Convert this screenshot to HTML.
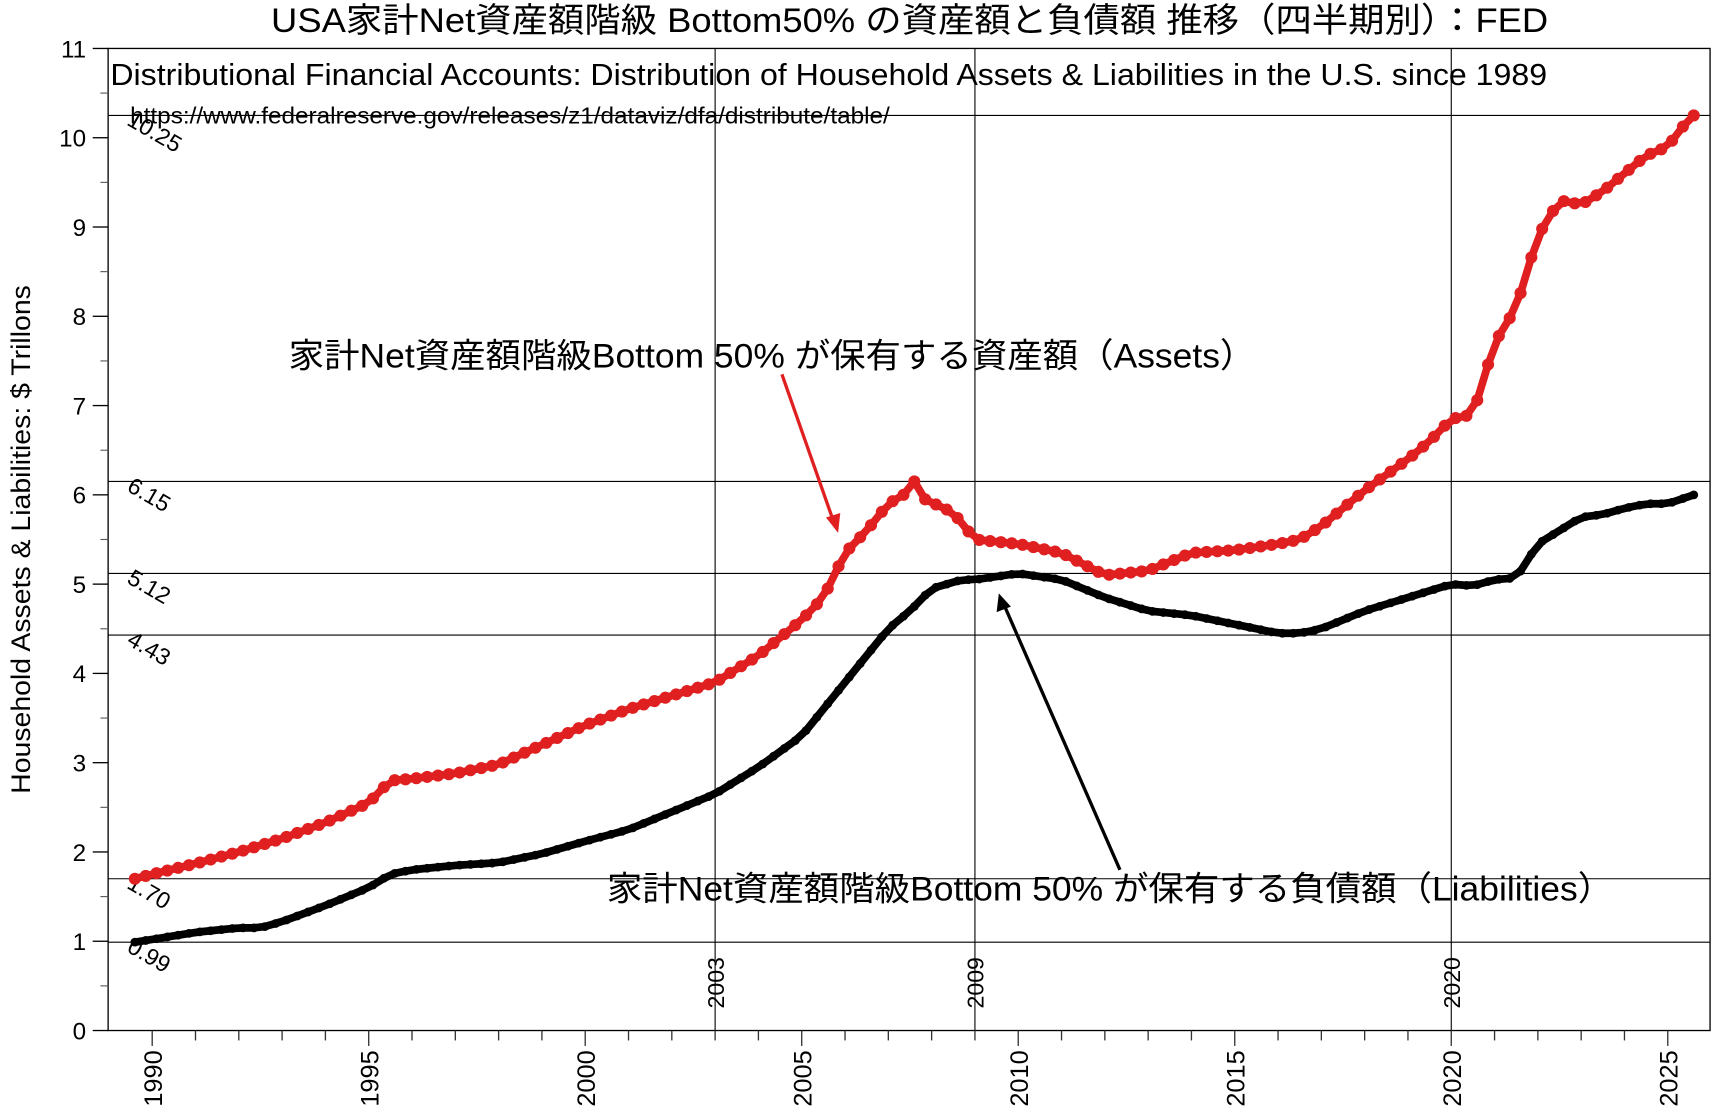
<!DOCTYPE html>
<html><head><meta charset="utf-8"><style>
html,body{margin:0;padding:0;background:#fff}
svg{display:block}
text{font-family:"Liberation Sans","Noto Sans CJK JP",sans-serif;fill:#000}
</style></head><body>
<svg id="s" width="1718" height="1112" viewBox="0 0 1560 1010" xmlns="http://www.w3.org/2000/svg">
<rect width="1560" height="1010" fill="#fff"/>
<g id="g"></g>
<text x="826" y="29" font-size="31" text-anchor="middle" textLength="1160" lengthAdjust="spacingAndGlyphs">USA家計Net資産額階級 Bottom50% の資産額と負債額 推移（四半期別）：FED</text>
<text x="100" y="77" font-size="28" textLength="1305" lengthAdjust="spacingAndGlyphs">Distributional Financial Accounts: Distribution of Household Assets &amp; Liabilities in the U.S. since 1989</text>
<text x="118" y="112" font-size="21" textLength="690" lengthAdjust="spacingAndGlyphs">https://www.federalreserve.gov/releases/z1/dataviz/dfa/distribute/table/</text>
<text transform="translate(27,490) rotate(-90)" font-size="24" text-anchor="middle" textLength="462" lengthAdjust="spacingAndGlyphs">Household Assets &amp; Liabilities:  $ Trillons</text>
<text x="262" y="334" font-size="31" textLength="878" lengthAdjust="spacingAndGlyphs">家計Net資産額階級Bottom 50% が保有する資産額（Assets）</text>
<text x="551" y="818" font-size="31" textLength="914" lengthAdjust="spacingAndGlyphs">家計Net資産額階級Bottom 50% が保有する負債額（Liabilities）</text>
<line x1="710" y1="340" x2="757" y2="474" stroke="#e02020" stroke-width="3"/>
<polygon points="761,484 750,470 763,466" fill="#e02020"/>
<line x1="1017" y1="790" x2="912" y2="550" stroke="#000" stroke-width="3"/>
<polygon points="907,539 905,556 918,551" fill="#000"/>
</svg>
<script>
const g=document.getElementById('g');
const L=98,R=1553,T=44,B=936;
const X=y=>98.7+(y-1989)*39.33, Y=v=>936-v*81.09;
let h='';
h+=`<rect x="${L}" y="${T}" width="${R-L}" height="${B-T}" fill="none" stroke="#000" stroke-width="1.2"/>`;
for(let v=0;v<=11;v++){h+=`<line x1="${L-14}" y1="${Y(v)}" x2="${L}" y2="${Y(v)}" stroke="#000" stroke-width="1.2"/><text x="${L-20}" y="${Y(v)+8}" font-size="22" text-anchor="end">${v}</text>`;
 if(v<11)h+=`<line x1="${L-7}" y1="${Y(v+.5)}" x2="${L}" y2="${Y(v+.5)}" stroke="#555"/>`;}
for(let y=1990;y<=2025;y++){const x=X(y),big=y%5==0;h+=`<line x1="${x}" y1="${B}" x2="${x}" y2="${B+(big?14:9)}" stroke="#333" stroke-width="1.2"/>`;
 if(big)h+=`<text transform="translate(${x+9},${B+18}) rotate(-90)" font-size="23" text-anchor="end">${y}</text>`;}
[2003,2009,2020].forEach(y=>{const x=X(y);h+=`<line x1="${x}" y1="${T}" x2="${x}" y2="${B}" stroke="#000"/><text transform="translate(${x+8},${B-20}) rotate(-90)" font-size="21">${y}</text>`;});
[[10.25,'10.25'],[6.15,'6.15'],[5.12,'5.12'],[4.43,'4.43'],[1.70,'1.70'],[0.99,'0.99']].forEach(([v,t])=>{const y=Y(v);h+=`<line x1="${L}" y1="${y}" x2="${R}" y2="${y}" stroke="#000"/><text transform="translate(114,${y+8}) rotate(30)" font-size="21">${t}</text>`;});
const A=[[1989.6,1.70],[1990,1.75],[1991,1.87],[1992,2.0],[1993,2.15],[1994,2.33],[1995,2.55],[1995.5,2.8],[1996,2.82],[1997,2.88],[1998,2.98],[1999,3.2],[2000,3.42],[2001,3.6],[2002,3.75],[2003,3.9],[2004,4.2],[2005,4.6],[2005.5,4.85],[2006,5.35],[2006.5,5.6],[2007,5.9],[2007.35,6.0],[2007.6,6.15],[2007.85,5.95],[2008.5,5.8],[2009,5.5],[2010,5.45],[2011,5.35],[2012,5.1],[2013,5.15],[2014,5.35],[2015,5.38],[2016,5.45],[2016.5,5.5],[2017,5.65],[2018,6.05],[2019,6.4],[2019.5,6.6],[2020,6.85],[2020.5,6.9],[2021,7.7],[2021.5,8.1],[2022,8.9],[2022.5,9.3],[2023,9.25],[2023.5,9.4],[2024,9.6],[2024.5,9.8],[2025,9.9],[2025.3,10.1],[2025.6,10.25]];
const Lb=[[1989.6,0.99],[1990,1.02],[1991,1.1],[1992,1.15],[1992.5,1.15],[1993,1.22],[1994,1.4],[1995,1.6],[1995.5,1.75],[1996,1.8],[1997,1.85],[1998,1.88],[1999,1.98],[2000,2.12],[2001,2.25],[2002,2.45],[2003,2.65],[2004,2.95],[2005,3.3],[2005.5,3.6],[2006,3.9],[2006.5,4.2],[2007,4.5],[2007.5,4.7],[2008,4.95],[2008.7,5.05],[2009,5.05],[2010,5.12],[2011,5.05],[2012,4.85],[2013,4.7],[2014,4.65],[2015,4.55],[2016,4.45],[2016.5,4.45],[2017,4.5],[2018,4.7],[2019,4.85],[2020,5.0],[2020.5,4.98],[2021,5.05],[2021.5,5.07],[2022,5.45],[2022.5,5.6],[2023,5.75],[2023.5,5.78],[2024,5.85],[2024.5,5.9],[2025,5.9],[2025.6,6.0]];
function interp(d){const o=[];for(let k=0;k<=144;k++){const t=1989.6+k*0.25;let i=0;while(i<d.length-2&&d[i+1][0]<t)i++;const[a,b]=[d[i],d[i+1]];const f=Math.min(1,Math.max(0,(t-a[0])/(b[0]-a[0])));o.push([X(t),Y(a[1]+(b[1]-a[1])*f)]);}return o;}
const pa=interp(A),pl=interp(Lb);
h+=`<polyline points="${pl.map(p=>p.join(',')).join(' ')}" fill="none" stroke="#000" stroke-width="7" stroke-linejoin="round"/>`;
pl.forEach(p=>h+=`<circle cx="${p[0]}" cy="${p[1]}" r="4" fill="#000"/>`);
h+=`<polyline points="${pa.map(p=>p.join(',')).join(' ')}" fill="none" stroke="#e02020" stroke-width="7" stroke-linejoin="round"/>`;
pa.forEach(p=>h+=`<circle cx="${p[0]}" cy="${p[1]}" r="5.5" fill="#e02020"/>`);
g.innerHTML=h;
</script>
</body></html>
